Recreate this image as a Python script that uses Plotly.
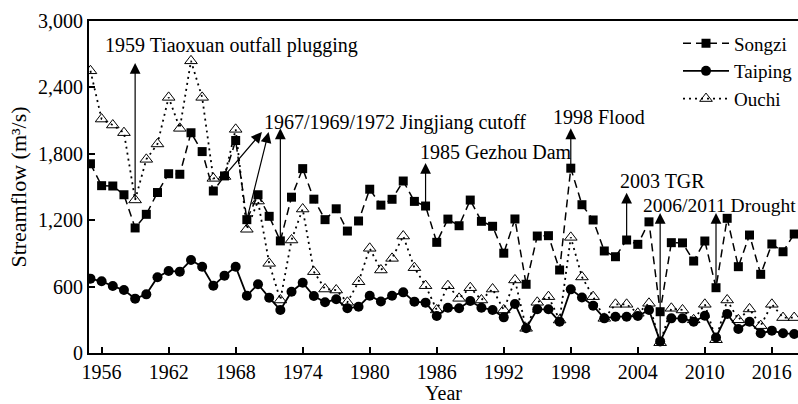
import plotly.graph_objects as go

# Annual streamflow (m³/s) at the three Jingjiang outlets, 1955-2018
years = list(range(1955, 2019))

songzi = [1710, 1512, 1509, 1430, 1130, 1253, 1450, 1620, 1615, 1990,
          1820, 1464, 1600, 1920, 1205, 1430, 1235, 1013, 1408, 1666,
          1390, 1205, 1303, 1102, 1193, 1480, 1336, 1389, 1554, 1370,
          1328, 1000, 1210, 1150, 1382, 1190, 1145, 902, 1211, 621,
          1057, 1060, 750, 1670, 1340, 1202, 922, 870, 1021, 982,
          1185, 373, 997, 995, 831, 1012, 590, 1217, 780, 1066,
          711, 985, 915, 1075]

taiping = [672, 648, 605, 569, 491, 530, 684, 741, 735, 840,
           780, 608, 699, 780, 518, 621, 500, 389, 554, 635,
           515, 458, 485, 404, 418, 518, 466, 518, 548, 464,
           455, 334, 409, 404, 470, 409, 389, 322, 443, 223,
           395, 395, 283, 575, 502, 428, 313, 328, 328, 334,
           389, 105, 313, 313, 283, 337, 140, 352, 217, 283,
           178, 202, 178, 172]

ouchi = [2550, 2114, 2060, 1991, 1383, 1750, 1889, 2310, 2030, 2640,
         2310, 1578, 1595, 2021, 1118, 1373, 810, 479, 1021, 1301,
         735, 578, 569, 458, 644, 946, 750, 855, 1057, 771,
         608, 389, 608, 494, 590, 479, 578, 389, 660, 223,
         458, 509, 298, 1045, 687, 509, 313, 440, 440, 359,
         449, 93, 404, 389, 300, 440, 120, 479, 300, 398,
         247, 440, 320, 320]

x_ticks = [1956, 1962, 1968, 1974, 1980, 1986, 1992, 1998, 2004, 2010, 2016]
y_ticks = [0, 600, 1200, 1800, 2400, 3000]

# Event labels: (text, x of left edge, y of text centre)
event_labels = [
    ("1959 Tiaoxuan outfall plugging", 1956.1, 2783),
    ("1967/1969/1972 Jingjiang cutoff", 1970.35, 2087),
    ("1985 Gezhou Dam", 1984.3, 1816),
    ("1998 Flood", 1996.2, 2133),
    ("2003 TGR", 2002.2, 1554),
    ("2006/2011 Drought", 2004.3, 1337),
]

# Event arrows: (tail x, tail y, head x, head y)
event_arrows = [
    (1959, 1383, 1959, 2620),
    (1967, 1600, 1970.35, 1997),
    (1969, 1205, 1970.95, 1997),
    (1972, 1013, 1972, 2030),
    (1985, 1328, 1985, 1717),
    (1998, 1670, 1998, 2030),
    (2003, 1021, 2003, 1449),
    (2006, 93, 2006, 1265),
    (2011, 590, 2011, 1265),
]

FONT = "Liberation Serif, Times New Roman, serif"

fig = go.Figure()

fig.add_trace(go.Scatter(
    x=years, y=songzi, name="Songzi", mode="lines+markers",
    line=dict(color="black", width=1.5, dash="8px,5px"),
    marker=dict(symbol="square", size=9, color="black"),
))
fig.add_trace(go.Scatter(
    x=years, y=taiping, name="Taiping", mode="lines+markers",
    line=dict(color="black", width=1.8),
    marker=dict(symbol="circle", size=10, color="black"),
))
fig.add_trace(go.Scatter(
    x=years, y=ouchi, name="Ouchi", mode="lines+markers",
    line=dict(color="black", width=1.8, dash="2px,4px"),
    marker=dict(symbol="triangle-up-open", size=11, color="black",
                line=dict(width=1)),
))

annotations = []
for tx, ty, hx, hy in event_arrows:
    annotations.append(dict(
        x=hx, y=hy, ax=tx, ay=ty, xref="x", yref="y", axref="x", ayref="y",
        text="", showarrow=True, arrowhead=2, arrowsize=1.8, arrowwidth=1.2,
        arrowcolor="black", standoff=0, startstandoff=0,
    ))
for txt, lx, cy in event_labels:
    annotations.append(dict(
        x=lx, y=cy, xref="x", yref="y", text=txt, showarrow=False,
        xanchor="left", yanchor="middle",
        font=dict(family=FONT, size=20 if "Drought" not in txt else 19.5,
                  color="black"),
    ))

fig.update_layout(
    width=798, height=404,
    margin=dict(l=89, r=0, t=21, b=51),
    paper_bgcolor="white", plot_bgcolor="white",
    font=dict(family=FONT, size=20, color="black"),
    showlegend=True,
    legend=dict(
        x=1.0, y=0.99, xanchor="right", yanchor="top",
        bgcolor="rgba(0,0,0,0)", itemwidth=46, tracegroupgap=0,
        font=dict(family=FONT, size=19, color="black"),
    ),
    annotations=annotations,
    xaxis=dict(
        range=[1954.87, 2018.34], tickvals=x_ticks,
        ticks="inside", ticklen=6, tickwidth=1.5, tickcolor="black",
        showline=True, linecolor="black", linewidth=2, mirror=True,
        showgrid=False, zeroline=False,
        title=dict(text="Year", standoff=8,
                   font=dict(family=FONT, size=20)),
        tickfont=dict(family=FONT, size=20),
    ),
    yaxis=dict(
        range=[0, 3000], tickvals=y_ticks, tickformat=",d",
        ticks="inside", ticklen=6, tickwidth=1.5, tickcolor="black",
        showline=True, linecolor="black", linewidth=2,
        showgrid=False, zeroline=False,
        title=dict(text="Streamflow (m³/s)", standoff=5,
                   font=dict(family=FONT, size=22)),
        tickfont=dict(family=FONT, size=20),
    ),
)

fig.write_html("out.html")
